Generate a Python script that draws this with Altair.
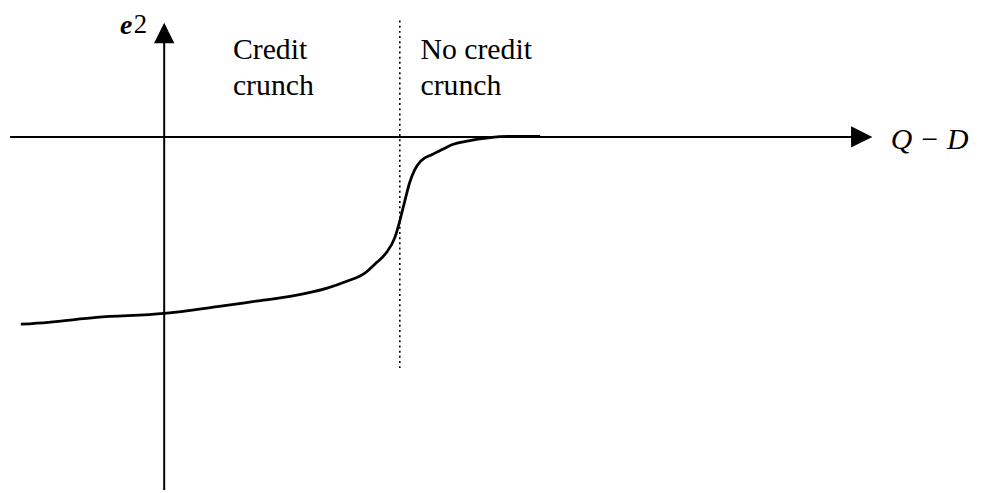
import altair as alt
import pandas as pd

# ---- data (units: 1 = 100 px of the original figure, origin at axes crossing) ----
curve_x = [-1.46, -1.18, -0.69, 0.0, 0.54, 0.96, 1.31, 1.66, 1.86, 2.04, 2.15, 2.26,
           2.35, 2.40, 2.45, 2.50, 2.55, 2.61, 2.73, 2.83, 2.93, 3.10, 3.30, 3.50, 3.83]
curve_y = [-1.92, -1.90, -1.85, -1.81, -1.74, -1.68, -1.63, -1.55, -1.48, -1.40, -1.30, -1.19,
           -1.03, -0.86, -0.66, -0.47, -0.34, -0.25, -0.18, -0.13, -0.08, -0.04, -0.01, 0.005, 0.005]

threshold_x = 2.40          # credit-crunch boundary (dotted line)
axis_x_range = [-1.57, 7.0]  # horizontal axis extent
axis_y_range = [-3.62, 0.97] # vertical axis extent

region_labels = ["Credit", "crunch", "No credit", "crunch"]
region_label_x = [0.70, 0.70, 2.61, 2.61]
region_label_y = [0.80, 0.43, 0.80, 0.43]

x_title = "Q \u2212 D"
y_title_main = "e"
y_title_sub = "2"

X_DOMAIN = [-1.49, 8.31]
Y_DOMAIN = [-3.63, 1.22]

xs = alt.Scale(domain=X_DOMAIN, nice=False, zero=False)
ys = alt.Scale(domain=Y_DOMAIN, nice=False, zero=False)

def X(f):
    return alt.X(f, type="quantitative", scale=xs, axis=None)

def Y(f):
    return alt.Y(f, type="quantitative", scale=ys, axis=None)

curve_df = pd.DataFrame({"x": curve_x, "y": curve_y})
curve = alt.Chart(curve_df).mark_line(
    color="black", strokeWidth=2.8, interpolate="monotone", clip=False
).encode(x=X("x"), y=Y("y"))

haxis_df = pd.DataFrame({"x": [axis_x_range[0]], "x2": [axis_x_range[1]], "y": [0.0]})
haxis = alt.Chart(haxis_df).mark_rule(color="black", strokeWidth=2).encode(
    x=X("x"), x2="x2", y=Y("y"))

vaxis_df = pd.DataFrame({"x": [0.0], "y": [axis_y_range[0]], "y2": [axis_y_range[1]]})
vaxis = alt.Chart(vaxis_df).mark_rule(color="black", strokeWidth=2).encode(
    x=X("x"), y=Y("y"), y2="y2")

dotted_df = pd.DataFrame({"x": [threshold_x], "y": [-2.37], "y2": [Y_DOMAIN[1]]})
dotted = alt.Chart(dotted_df).mark_rule(
    color="black", strokeWidth=1.6, strokeDash=[2, 3.2]).encode(
    x=X("x"), y=Y("y"), y2="y2")

# arrow heads at the axis ends
up_df = pd.DataFrame({"x": [0.0], "y": [axis_y_range[1] + 0.095]})
up_arrow = alt.Chart(up_df).mark_point(
    shape="M0,-1L1,1L-1,1Z", filled=True, color="black", opacity=1, size=420, strokeWidth=0
).encode(x=X("x"), y=Y("y"))

right_df = pd.DataFrame({"x": [axis_x_range[1] + 0.105], "y": [0.0]})
right_arrow = alt.Chart(right_df).mark_point(
    shape="M1,0L-1,-1L-1,1Z", filled=True, color="black", opacity=1, size=460, strokeWidth=0
).encode(x=X("x"), y=Y("y"))

labels_df = pd.DataFrame({"t": region_labels, "x": region_label_x, "y": region_label_y})
labels = alt.Chart(labels_df).mark_text(
    font="Liberation Serif", fontSize=30, align="left", baseline="alphabetic", color="black"
).encode(x=X("x"), y=Y("y"), text="t:N")

xt_df = pd.DataFrame({"t": [x_title], "x": [7.40], "y": [-0.12]})
x_label = alt.Chart(xt_df).mark_text(
    font="Liberation Serif", fontSize=30, fontStyle="italic", align="left",
    baseline="alphabetic", color="black"
).encode(x=X("x"), y=Y("y"), text="t:N")

ye_df = pd.DataFrame({"t": [y_title_main], "x": [-0.45], "y": [1.05]})
y_label_e = alt.Chart(ye_df).mark_text(
    font="Liberation Serif", fontSize=28, fontStyle="italic", fontWeight="bold",
    align="left", baseline="alphabetic", color="black"
).encode(x=X("x"), y=Y("y"), text="t:N")

y2_df = pd.DataFrame({"t": [y_title_sub], "x": [-0.31], "y": [1.07]})
y_label_2 = alt.Chart(y2_df).mark_text(
    font="Liberation Serif", fontSize=27, align="left", baseline="alphabetic", color="black"
).encode(x=X("x"), y=Y("y"), text="t:N")

chart = alt.layer(
    haxis, vaxis, dotted, curve, up_arrow, right_arrow, labels, x_label, y_label_e, y_label_2
).properties(
    width=980, height=485, padding=0,
    autosize=alt.AutoSizeParams(type="fit", contains="padding"),
    background="white",
).configure_view(stroke=None)

chart.save("out.html", embed_options={"renderer": "svg", "actions": False})
